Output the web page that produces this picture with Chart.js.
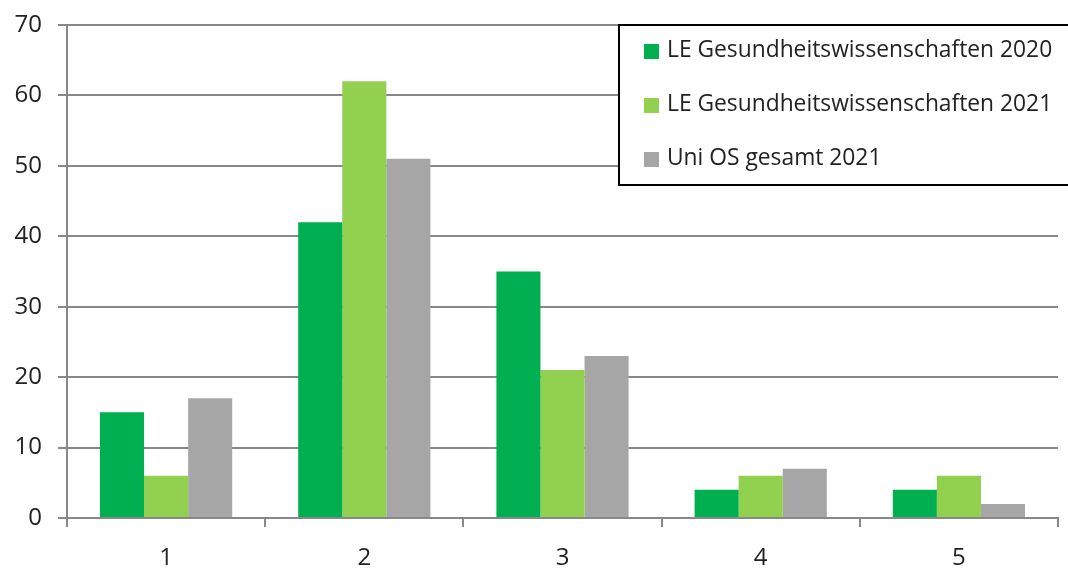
<!DOCTYPE html>
<html>
<head>
<meta charset="utf-8">
<script src="https://cdn.jsdelivr.net/npm/chart.js@4"></script>
<style>
  body { margin: 0; background: #fff; }
  canvas { display: block; }
</style>
</head>
<body>
<canvas id="chart" width="1068" height="568"></canvas>
<script>
const categories = ['1', '2', '3', '4', '5'];
const seriesNames = ['LE Gesundheitswissenschaften 2020', 'LE Gesundheitswissenschaften 2021', 'Uni OS gesamt 2021'];
const le2020 = [15, 42, 35, 4, 4];
const le2021 = [6, 62, 21, 6, 6];
const uniOs2021 = [17, 51, 23, 7, 2];
const colors = ['#00B050', '#92D050', '#A6A6A6'];

const FONT = "'Open Sans', 'Noto Sans', sans-serif";

// legend box drawn over the plot, top right
const boxLegend = {
  id: 'boxLegend',
  afterDraw(chart) {
    const ctx = chart.ctx;
    ctx.save();
    ctx.fillStyle = '#fff';
    ctx.fillRect(619, 25, 460, 160);
    ctx.strokeStyle = '#000';
    ctx.lineWidth = 2;
    ctx.strokeRect(619, 25, 460, 160);
    ctx.font = '22.8px ' + FONT;
    ctx.textBaseline = 'middle';
    chart.data.datasets.forEach((ds, i) => {
      const y = 51 + i * 54;
      ctx.fillStyle = ds.backgroundColor;
      ctx.fillRect(644, y - 7, 15, 15);
      ctx.fillStyle = '#222';
      ctx.fillText(ds.label, 667, y);
    });
    ctx.restore();
  }
};

new Chart(document.getElementById('chart'), {
  type: 'bar',
  data: {
    labels: categories,
    datasets: [
      { label: seriesNames[0], data: le2020, backgroundColor: colors[0] },
      { label: seriesNames[1], data: le2021, backgroundColor: colors[1] },
      { label: seriesNames[2], data: uniOs2021, backgroundColor: colors[2] }
    ]
  },
  options: {
    responsive: false,
    animation: false,
    layout: { padding: { top: 20, right: 10, left: 0, bottom: 0 } },
    datasets: { bar: { categoryPercentage: 0.667, barPercentage: 1 } },
    plugins: { legend: { display: false }, tooltip: { enabled: false } },
    scales: {
      x: {
        grid: { display: true, drawOnChartArea: false, offset: true, color: '#888', lineWidth: 2, tickLength: 9 },
        border: { color: '#888', width: 2 },
        ticks: { color: '#222', font: { family: FONT, size: 24 }, padding: 17 },
        afterFit(scale) { scale.height = 50; }
      },
      y: {
        min: 0, max: 70,
        grid: { color: '#888', lineWidth: 2, tickLength: 9 },
        border: { color: '#888', width: 2 },
        ticks: { stepSize: 10, color: '#222', font: { family: FONT, size: 24, lineHeight: 0.75 }, padding: 16 },
        afterFit(scale) { scale.width = 67; }
      }
    }
  },
  plugins: [boxLegend]
});
</script>
</body>
</html>
